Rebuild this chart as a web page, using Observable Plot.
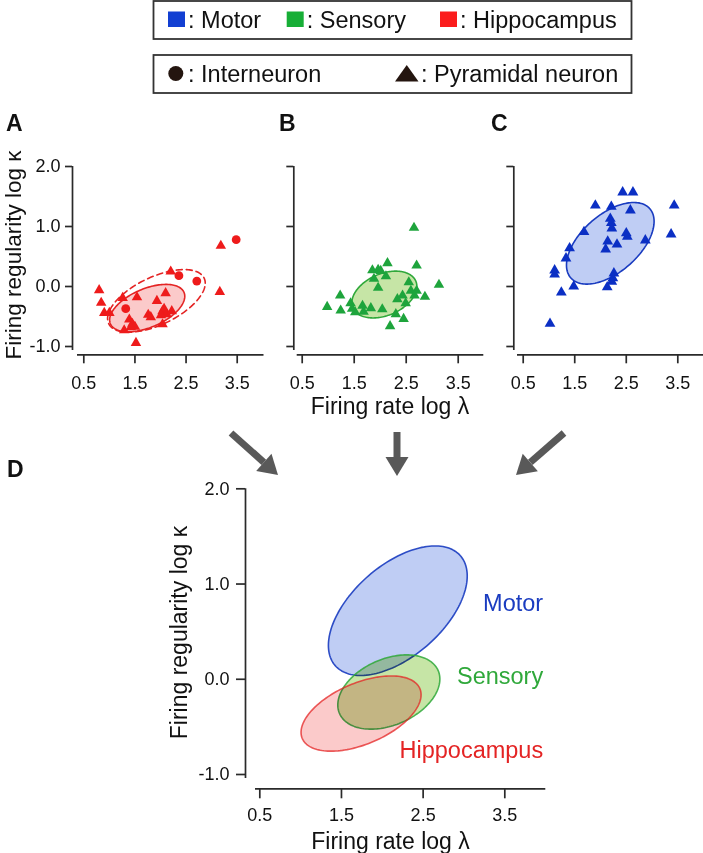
<!DOCTYPE html>
<html><head><meta charset="utf-8">
<script src="https://cdn.jsdelivr.net/npm/d3@7"></script>
<script src="https://cdn.jsdelivr.net/npm/@observablehq/plot@0.6"></script>
<style>
body{margin:0;background:#fff;}
#fig{position:relative;width:703px;height:853px;overflow:hidden;background:#fff;}
#fig svg{position:absolute;}
</style></head><body><div id="fig"></div>
<script>
// ---------------- DATA ----------------
const xTicks = [0.5, 1.5, 2.5, 3.5];
const yTicks = [-1, 0, 1, 2];
const regions = ["Motor", "Sensory", "Hippocampus"];
const cellTypes = ["Interneuron", "Pyramidal neuron"];

// Panel A – hippocampus
const hippoPyrX = [0.80,0.84,0.90,1.00,1.26,1.54,1.29,1.39,1.45,1.50,1.52,1.76,1.81,1.93,2.10,2.04,2.07,2.12,2.04,2.22,2.20,3.18,3.16,1.42,2.01];
const hippoPyrY = [-0.06,-0.27,-0.44,-0.44,-0.19,-0.18,-0.73,-0.55,-0.62,-0.67,-0.94,-0.47,-0.51,-0.24,-0.11,-0.41,-0.37,-0.46,-0.63,-0.41,0.25,0.68,-0.09,-0.68,-0.48];
const hippoIntX = [1.32, 2.36, 2.71, 3.48];
const hippoIntY = [-0.37, 0.18, 0.09, 0.78];

// Panel B – sensory
const sensoryX = [2.65,2.14,2.70,1.85,1.96,2.01,1.88,2.11,1.96,3.13,1.23,0.98,1.24,1.43,1.46,1.52,1.66,1.68,1.82,2.04,2.33,2.43,2.49,2.55,2.59,2.70,2.66,2.86,2.30,2.45,2.19];
const sensoryY = [0.98,0.39,0.35,0.27,0.28,0.26,0.13,0.17,-0.02,0.03,-0.15,-0.34,-0.40,-0.28,-0.37,-0.43,-0.32,-0.42,-0.36,-0.38,-0.21,-0.15,-0.28,0.07,-0.07,-0.07,-0.15,-0.17,-0.46,-0.54,-0.66];

// Panel C – motor
const motorX = [1.02,1.24,1.48,1.11,1.11,1.33,1.40,1.68,1.90,2.21,2.43,2.63,2.58,2.19,2.21,2.22,2.50,2.52,2.14,2.32,2.10,2.87,3.43,3.37,2.26,2.24,2.22,2.13];
const motorY = [-0.62,-0.10,0.00,0.27,0.20,0.47,0.64,0.91,1.35,1.33,1.57,1.57,1.27,1.13,1.06,0.97,0.89,0.83,0.75,0.70,0.62,0.77,1.35,0.87,0.22,0.14,0.08,-0.01];

// Ellipses (centre, SD in x, SD in y, covariance)
const ellipseName = ["Motor", "Sensory", "Hippocampus", "Hippocampus (all cells)"];
const ellipseCx  = [2.19, 2.08, 1.74, 1.92];
const ellipseCy  = [0.72, -0.134, -0.36, -0.24];
const ellipseSdX = [0.85, 0.625, 0.735, 0.955];
const ellipseSdY = [0.68, 0.39, 0.395, 0.522];
const ellipseCov = [0.31, 0.085, 0.145, 0.282];

// ---------------- STYLE ----------------
const FONT = '"Liberation Sans", Arial, Helvetica, sans-serif';
const AXIS = "#2a2a2a";
const col = {
  Motor:       {pt: "#0b2fc4", fill: "#bfcdf4", stroke: "#1a3cc0"},
  Sensory:     {pt: "#1ea43c", fill: "#c6e5a6", stroke: "#2fa83a"},
  Hippocampus: {pt: "#ee1b1b", fill: "#fbcaca", stroke: "#e42424"}
};
const legendCol = {Motor: "#123fd2", Sensory: "#17ae36", Hippocampus: "#fb1c1c"};

function pts(xs, ys) { return xs.map((x, i) => ({x, y: ys[i]})); }
function ellipse(i, n = 160) {
  const a = ellipseSdX[i], l21 = ellipseCov[i] / a;
  const l22 = Math.sqrt(ellipseSdY[i] ** 2 - l21 * l21);
  return d3.range(n).map(k => {
    const t = 2 * Math.PI * k / n, u = Math.cos(t), v = Math.sin(t);
    return {x: ellipseCx[i] + a * u, y: ellipseCy[i] + l21 * u + l22 * v};
  });
}
const fmt = d => d.toFixed(1);

const fig = document.getElementById("fig");

function panel(p) {
  const xs = d3.scaleLinear([0.5, 3.5], p.xr);
  const ys = d3.scaleLinear([-1, 2], p.yr);
  const svg = Plot.plot({
    width: p.width, height: p.height,
    marginLeft: p.yAxisX - p.left, marginRight: 0, marginTop: 0,
    marginBottom: p.top + p.height - p.xAxisY,
    x: {domain: [0.5, 3.5], range: p.xr.map(v => v - p.left)},
    y: {domain: [-1, 2], range: p.yr.map(v => v - p.top)},
    style: {background: "transparent", overflow: "visible", fontFamily: FONT, color: "#111"},
    marks: [
      ...p.marks,
      Plot.ruleX([xs.invert(p.yAxisX)], {y1: 2, y2: ys.invert(p.yAxisBottom), stroke: AXIS, strokeWidth: 1.7}),
      Plot.ruleY([ys.invert(p.xAxisY)], {x1: xs.invert(p.xAxisL), x2: xs.invert(p.xAxisR), stroke: AXIS, strokeWidth: 1.7}),
      Plot.axisX({ticks: xTicks, tickFormat: fmt, anchor: "bottom", tickSize: p.xTickSize, tickPadding: p.xTickPad, fontSize: 18, stroke: AXIS, strokeWidth: 1.7, label: null}),
      Plot.axisY({ticks: yTicks, tickFormat: p.yLabels ? fmt : () => "", anchor: "left", tickSize: p.yTickSize, tickPadding: p.yTickPad, fontSize: 18, stroke: AXIS, strokeWidth: 1.7, label: null})
    ]
  });
  svg.style.left = p.left + "px";
  svg.style.top = p.top + "px";
  fig.appendChild(svg);
}

function ellipseMarks(i, region, opts = {}) {
  const e = ellipse(i);
  const m = [];
  if (opts.fill !== false)
    m.push(Plot.line(e, {x: "x", y: "y", curve: "linear-closed", fill: col[region].fill, stroke: "none", mixBlendMode: "multiply"}));
  m.push(Plot.line(e, {x: "x", y: "y", curve: "linear-closed", fill: "none", stroke: col[region].stroke, strokeWidth: 1.6, strokeOpacity: opts.so ?? 1, strokeDasharray: opts.dash}));
  return m;
}

const abc = {top: 140, height: 270, xAxisY: 354.3, yr: [346, 166], yAxisBottom: 350, xTickSize: 9, xTickPad: 12, yTickSize: 7, yTickPad: 5};

// Panel A
panel({...abc, left: 0, width: 270, yAxisX: 72, xr: [83.3, 236.7], xAxisL: 77, xAxisR: 263.5, yLabels: true,
  marks: [
    ...ellipseMarks(3, "Hippocampus", {fill: false, dash: "6,4"}),
    ...ellipseMarks(2, "Hippocampus"),
    Plot.dot(pts(hippoPyrX, hippoPyrY), {x: "x", y: "y", symbol: "triangle", r: 3.9, fill: col.Hippocampus.pt, stroke: null}),
    Plot.dot(pts(hippoIntX, hippoIntY), {x: "x", y: "y", symbol: "circle", r: 4.4, fill: col.Hippocampus.pt, stroke: null})
  ]});
// Panel B
panel({...abc, left: 225, width: 262, yAxisX: 293.3, xr: [301.7, 457.7], xAxisL: 296.7, xAxisR: 483.3, yLabels: false,
  marks: [
    ...ellipseMarks(1, "Sensory"),
    Plot.dot(pts(sensoryX, sensoryY), {x: "x", y: "y", symbol: "triangle", r: 3.9, fill: col.Sensory.pt, stroke: null})
  ]});
// Panel C
panel({...abc, left: 445, width: 258, yAxisX: 513.3, xr: [522.7, 677.3], xAxisL: 517, xAxisR: 703, yLabels: false,
  marks: [
    ...ellipseMarks(0, "Motor"),
    Plot.dot(pts(motorX, motorY), {x: "x", y: "y", symbol: "triangle", r: 4.0, fill: col.Motor.pt, stroke: null})
  ]});

// Panel D
const dLabels = [
  {text: "Motor", y: 0.795}, {text: "Sensory", y: 0.025}, {text: "Hippocampus", y: -0.746}
];
panel({top: 470, height: 383, left: 140, width: 420, yAxisX: 245, xAxisY: 788.3, xr: [259.3, 504.3], yr: [774, 488.3],
  yAxisBottom: 778, xAxisL: 255, xAxisR: 545.3, xTickSize: 10, xTickPad: 9, yTickSize: 9, yTickPad: 7, yLabels: true,
  marks: [
    ...ellipseMarks(0, "Motor", {so: 0.9}),
    ...ellipseMarks(1, "Sensory", {so: 0.85}),
    ...ellipseMarks(2, "Hippocampus", {so: 0.75}),
    Plot.text(dLabels, {x: 3.97, y: "y", text: "text", textAnchor: "end", lineAnchor: "middle", fontSize: 23.5,
      fill: d => col[d.text].stroke})
  ]});

// ---------------- OVERLAY: legend, titles, letters, arrows ----------------
const NS = "http://www.w3.org/2000/svg";
const ov = document.createElementNS(NS, "svg");
ov.setAttribute("width", 703); ov.setAttribute("height", 853);
ov.style.left = "0px"; ov.style.top = "0px"; ov.style.fontFamily = FONT;
fig.appendChild(ov);
function el(tag, attrs, text) {
  const e = document.createElementNS(NS, tag);
  for (const k in attrs) e.setAttribute(k, attrs[k]);
  if (text != null) e.textContent = text;
  ov.appendChild(e); return e;
}
// legend boxes
el("rect", {x: 153.5, y: 1, width: 478, height: 38, fill: "none", stroke: "#333", "stroke-width": 1.8});
el("rect", {x: 153.5, y: 55, width: 478, height: 38, fill: "none", stroke: "#333", "stroke-width": 1.8});
const regX = [168, 286.7, 440];
regions.forEach((r, i) => {
  el("rect", {x: regX[i], y: 11.5, width: 17, height: 15.5, fill: legendCol[r]});
  el("text", {x: regX[i] + 20, y: 27.5, "font-size": 23.5, fill: "#111"}, ": " + r);
});
el("circle", {cx: 175.8, cy: 73.5, r: 7.5, fill: "#24150f"});
el("path", {d: "M395,81.5 L418.5,81.5 L406.75,65 Z", fill: "#24150f"});
el("text", {x: 188, y: 82, "font-size": 23.5, fill: "#111"}, ": " + cellTypes[0]);
el("text", {x: 421, y: 82, "font-size": 23.5, fill: "#111"}, ": " + cellTypes[1]);

// panel letters
[["A", 6, 131], ["B", 279, 131], ["C", 491, 131], ["D", 7, 477]].forEach(([t, x, y]) =>
  el("text", {x, y, "font-size": 23, "font-weight": "bold", fill: "#111"}, t));

// axis titles
el("text", {x: 390, y: 413.5, "font-size": 23, "text-anchor": "middle", fill: "#111"}, "Firing rate log λ");
el("text", {x: 390.5, y: 848.5, "font-size": 23, "text-anchor": "middle", fill: "#111"}, "Firing rate log λ");
el("text", {transform: "translate(20.5,255) rotate(-90)", "font-size": 22.5, "text-anchor": "middle", fill: "#111"}, "Firing regularity log κ");
el("text", {transform: "translate(187,632.5) rotate(-90)", "font-size": 23, "text-anchor": "middle", fill: "#111"}, "Firing regularity log κ");

// arrows
function arrow(x1, y1, x2, y2) {
  const a = Math.atan2(y2 - y1, x2 - x1), L = 19, W = 11.5;
  const bx = x2 - L * Math.cos(a), by = y2 - L * Math.sin(a);
  el("line", {x1, y1, x2: bx, y2: by, stroke: "#595959", "stroke-width": 7});
  const px = -Math.sin(a) * W, py = Math.cos(a) * W;
  el("path", {d: `M${x2},${y2} L${bx + px},${by + py} L${bx - px},${by - py} Z`, fill: "#595959"});
}
arrow(231, 433, 278, 475);
arrow(397, 432, 397, 476);
arrow(564, 433, 516, 475);
</script></body></html>
